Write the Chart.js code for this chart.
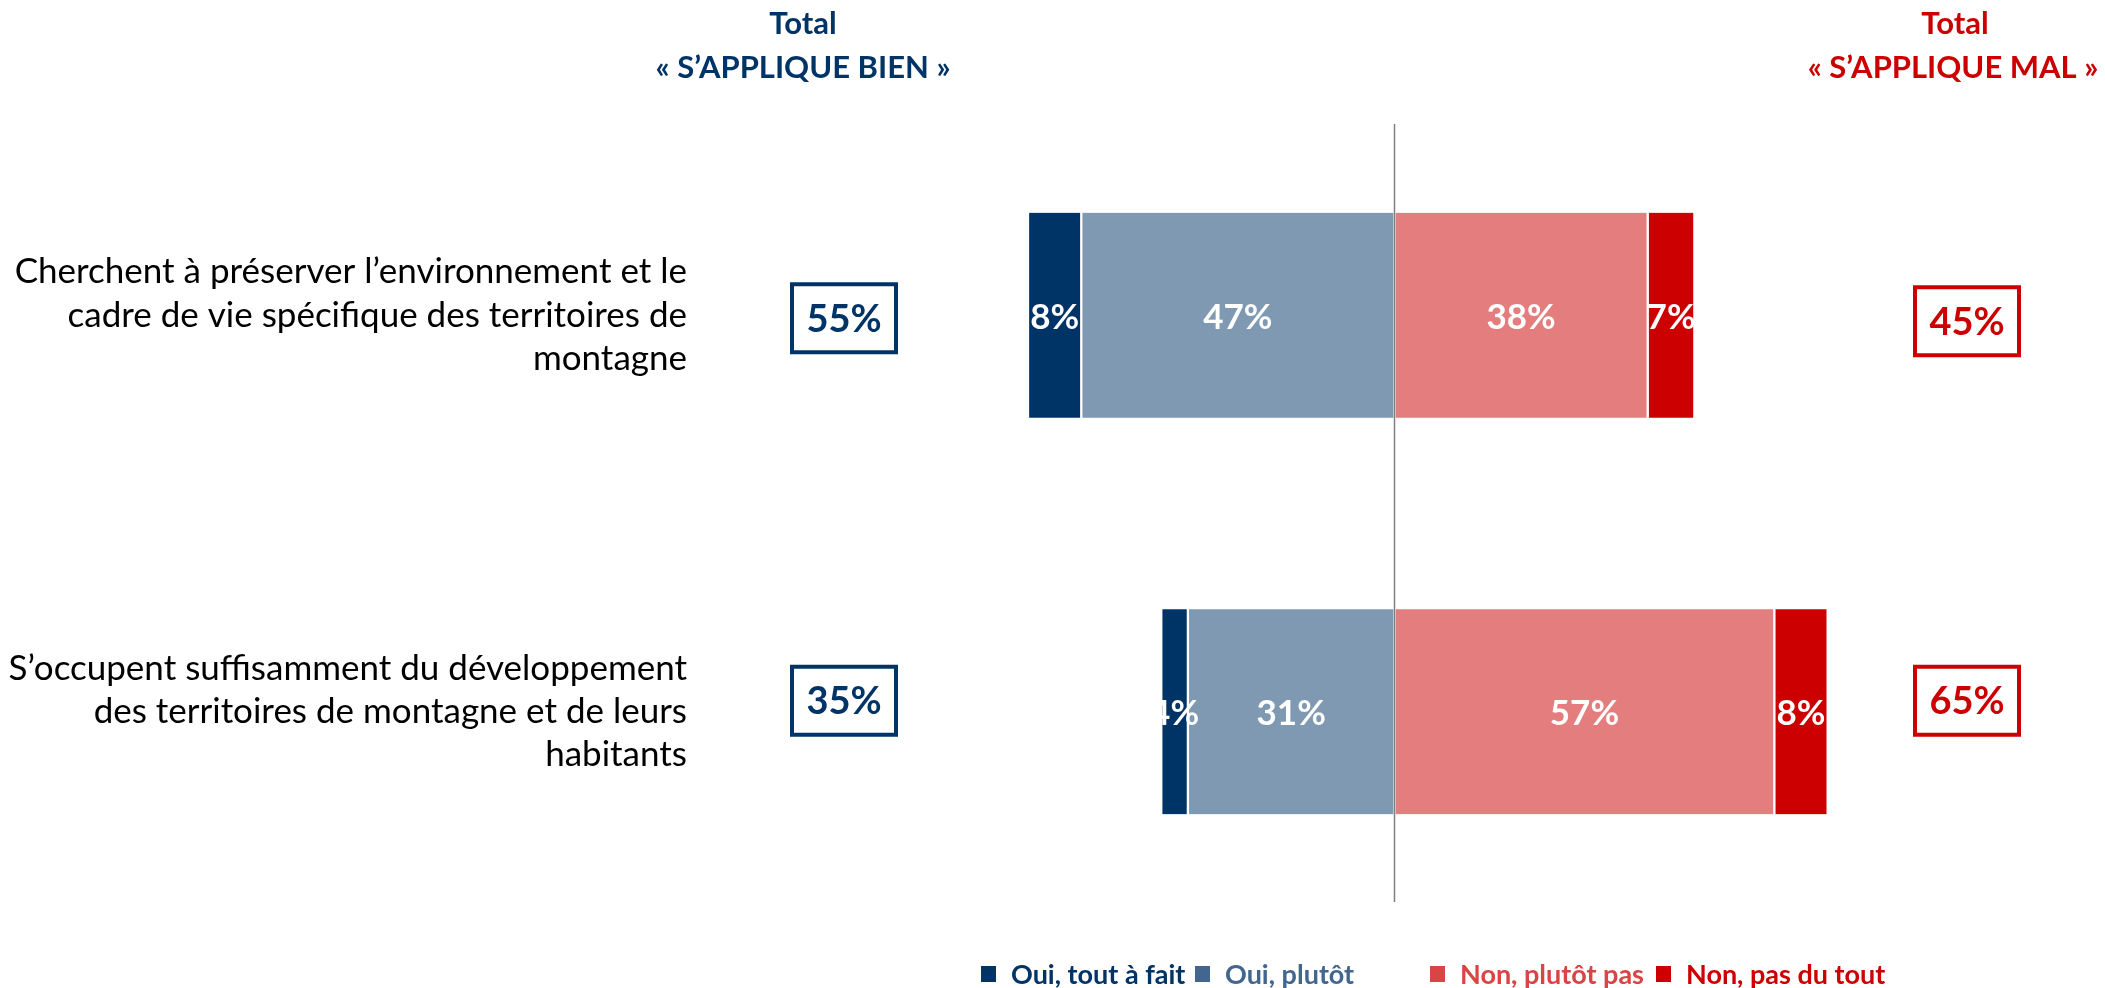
<!DOCTYPE html>
<html lang="fr">
<head>
<meta charset="utf-8">
<title>S'applique bien / mal</title>
<script src="https://cdn.jsdelivr.net/npm/chart.js@4.4.1/dist/chart.umd.min.js"></script>
<style>
    html, body { margin: 0; padding: 0; background: #ffffff; }
    #wrap { width: 2105px; height: 988px; }
</style>
</head>
<body>
<div id="wrap"><canvas id="chart" width="2105" height="988"></canvas></div>
<script>
// Data
const categories = [
    ['Cherchent à préserver l’environnement et le', 'cadre de vie spécifique des territoires de', 'montagne'],
    ['S’occupent suffisamment du développement', 'des territoires de montagne et de leurs', 'habitants']
];
const seriesLabels = ['Oui, tout à fait', 'Oui, plutôt', 'Non, plutôt pas', 'Non, pas du tout'];
const ouiToutAFait = [8, 4];
const ouiPlutot = [47, 31];
const nonPlutotPas = [38, 57];
const nonPasDuTout = [7, 8];
const headerBien = ['Total', '« S’APPLIQUE BIEN »'];
const headerMal = ['Total', '« S’APPLIQUE MAL »'];

const FONT = 'Lato, "Open Sans", sans-serif';
const NAVY = '#003366';
const RED = '#cc0000';
const barColors = [NAVY, '#7f99b2', '#e47d7d', RED];
const legendColors = [NAVY, '#42668f', '#d94444', RED];

// Totals per side, read from the series
const totalBien = ouiToutAFait.map((v, i) => v + ouiPlutot[i]);
const totalMal = nonPlutotPas.map((v, i) => v + nonPasDuTout[i]);

const overlayPlugin = {
    id: 'overlay',
    afterDatasetsDraw: function (chart) {
        const ctx = chart.ctx;
        const area = chart.chartArea;
        const x0 = chart.scales.x.getPixelForValue(0);

        // center line
        ctx.save();
        ctx.strokeStyle = '#7f7f7f';
        ctx.lineWidth = 1.5;
        ctx.beginPath();
        ctx.moveTo(x0, area.top + 7);
        ctx.lineTo(x0, area.bottom - 8);
        ctx.stroke();

        // values in bars
        ctx.fillStyle = '#ffffff';
        ctx.font = 'bold 35px ' + FONT;
        ctx.textAlign = 'center';
        ctx.textBaseline = 'middle';
        chart.data.datasets.forEach((ds, i) => {
            const meta = chart.getDatasetMeta(i);
            meta.data.forEach((bar, j) => {
                const v = Math.abs(ds.data[j]);
                ctx.fillText(v + '%', (bar.x + bar.base) / 2, bar.y + 2);
            });
        });

        // total boxes
        const rows = chart.getDatasetMeta(0).data;
        const drawBox = (cx, cy, text, color) => {
            ctx.strokeStyle = color;
            ctx.lineWidth = 4;
            ctx.strokeRect(cx - 52, cy - 34, 104, 68);
            ctx.fillStyle = color;
            ctx.font = 'bold 38px ' + FONT;
            ctx.fillText(text, cx, cy + 1);
        };
        rows.forEach((bar, j) => {
            drawBox(844, bar.y + (j === 0 ? 3 : -11), totalBien[j] + '%', NAVY);
            drawBox(1967, bar.y + (j === 0 ? 6 : -11), totalMal[j] + '%', RED);
        });

        // headers
        ctx.font = 'bold 31px ' + FONT;
        ctx.fillStyle = NAVY;
        ctx.fillText(headerBien[0], 803, 24);
        ctx.fillText(headerBien[1], 803, 68);
        ctx.fillStyle = RED;
        ctx.fillText(headerMal[0], 1955, 24);
        ctx.fillText(headerMal[1], 1953, 68);

        // legend, fixed slots like the original
        const slots = [981, 1195, 1430, 1656];
        const ly = 974;
        ctx.font = 'bold 27px ' + FONT;
        ctx.textAlign = 'left';
        seriesLabels.forEach((label, i) => {
            ctx.fillStyle = legendColors[i];
            ctx.fillRect(slots[i], ly - 8, 15, 16);
            ctx.fillText(label, slots[i] + 30, ly + 1);
        });
        ctx.restore();
    }
};

const ctx = document.getElementById('chart').getContext('2d');
new Chart(ctx, {
    type: 'bar',
    data: {
        labels: categories,
        datasets: [
            { label: seriesLabels[0], data: ouiToutAFait.map(v => -v), backgroundColor: barColors[0], order: 1 },
            { label: seriesLabels[1], data: ouiPlutot.map(v => -v), backgroundColor: barColors[1], order: 0 },
            { label: seriesLabels[2], data: nonPlutotPas, backgroundColor: barColors[2], order: 0 },
            { label: seriesLabels[3], data: nonPasDuTout, backgroundColor: barColors[3], order: 1 }
        ].map(ds => Object.assign(ds, {
            borderColor: '#ffffff',
            borderWidth: { left: 1.5, right: 1.5, top: 0, bottom: 0 },
            borderSkipped: false,
            barThickness: 205
        }))
    },
    options: {
        indexAxis: 'y',
        responsive: false,
        animation: false,
        devicePixelRatio: 1,
        layout: { padding: { left: 0, right: 244, top: 117, bottom: 78 } },
        plugins: {
            legend: { display: false },
            tooltip: { enabled: false }
        },
        scales: {
            x: {
                stacked: true,
                display: false,
                min: -70,
                max: 70
            },
            y: {
                stacked: true,
                grid: { display: false, drawTicks: false },
                border: { display: false },
                afterFit: function (scale) {
                    scale.width = 928;
                    scale.paddingTop = 0;
                    scale.paddingBottom = 0;
                },
                ticks: {
                    autoSkip: false,
                    padding: 241,
                    color: '#000000',
                    font: { family: FONT, size: 35, lineHeight: 1.24 }
                }
            }
        }
    },
    plugins: [overlayPlugin]
});
</script>
</body>
</html>
